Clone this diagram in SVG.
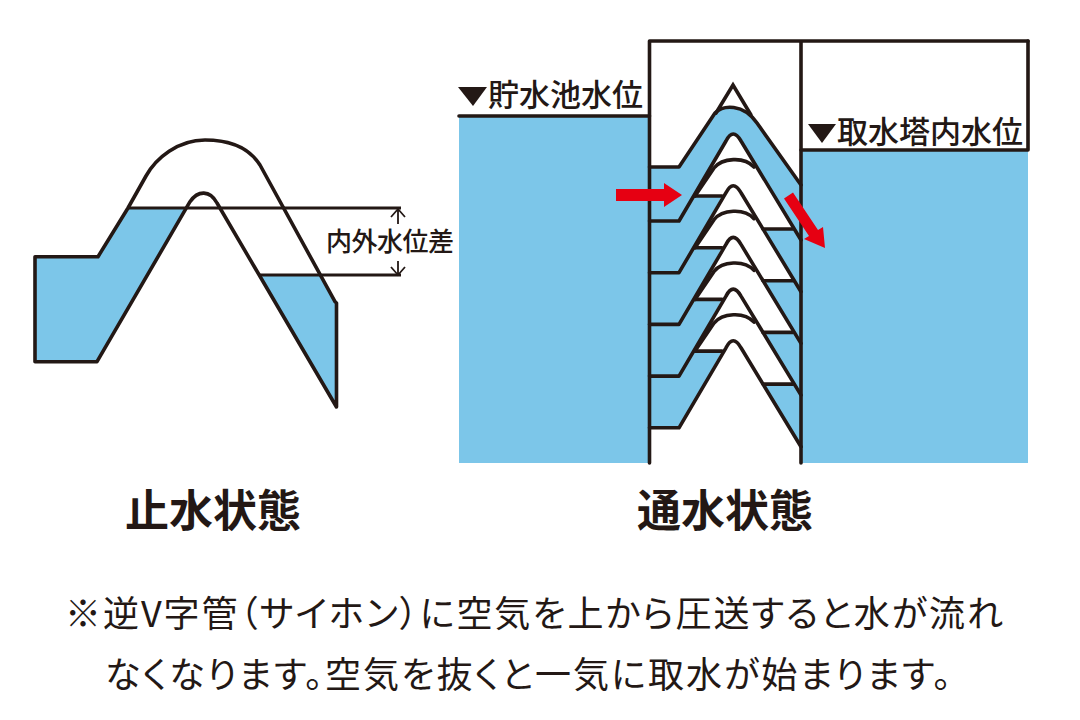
<svg xmlns="http://www.w3.org/2000/svg" xmlns:xlink="http://www.w3.org/1999/xlink" width="1080" height="720" viewBox="0 0 1080 720">
<style>
text{font-family:"Noto Sans CJK JP","Noto Sans CJK SC",sans-serif;fill:#231815}
.w{fill:#7cc6e9;stroke:none}
.l{fill:none;stroke:#231815;stroke-width:3.6;stroke-linejoin:round;stroke-linecap:round}
.t{fill:none;stroke:#231815;stroke-width:1.8}
.r{fill:#e60012}
.lab{font-size:31px;font-weight:500}
.title{font-size:44px;font-weight:700}
.note{font-size:36px;font-weight:400;font-feature-settings:"palt"}
</style>
<defs>
<path id="ll" class="l" d="M649.5,221H679L726,141Q733,127 741,141L801,240"/>
<path id="uu" class="l" d="M695,196L714,168C722,158 744,156 754,167"/>
<path id="lw" class="w" d="M649.5,221H679L695,196H722L679,272.7H649.5Z"/>
<path id="rw" class="w" d="M762,229H793L801,240V292L762,229Z"/>
<path id="lv" class="l" d="M695,196H722M763,229H793"/>
</defs>
<rect width="1080" height="720" fill="#fff"/>
<g id="left-siphon">
<path class="w" d="M35,256.7H98L128,208H187L97,361.7H35Z"/>
<path class="w" d="M260,275H322L335,301.7L336.5,407Z"/>
<path class="l" d="M35,256.7H98L128,208L146,176C156,158 178,140 205,140C228,140 248,146 260,165L335,301.7L336.5,303V407L217,203C210,190 198,190 190,201.7L97,361.7H35Z"/>
<path class="t" style="stroke-width:3.2" d="M128,208H401M260,275H401"/>
</g>
<g id="level-difference">
<path class="t" d="M398,209V224M391,217L398,209L405,217M398,261V275M391,267L398,275L405,267"/>
<text x="390" y="251" text-anchor="middle" font-size="26" font-weight="500" textLength="128">内外水位差</text>
</g>
<g id="reservoir">
<rect class="w" x="459" y="116" width="190.500" height="347"/>
<path class="l" d="M459,116H649.5"/>
<path d="M458,87H487L473,106Z" fill="#231815"/>
<text class="lab" x="488" y="106" textLength="155">貯水池水位</text>
</g>
<g id="intake-tower">
<rect class="w" x="801" y="150" width="227" height="313"/>
<path class="l" d="M801,150H1028V41"/>
<path d="M808,124H836L822,143Z" fill="#231815"/>
<text class="lab" x="837" y="143" textLength="186">取水塔内水位</text>
</g>
<g id="siphon-pipes">
<path class="w" d="M649.500,167H679L715,113C723,105 743,103 757,123L801,185V240L741,141Q733,127 726,141L679,221H649.500Z"/>
<use href="#lw"/><use href="#lw" y="51.700"/><use href="#lw" y="103.400"/><use href="#lw" y="155.100"/>
<use href="#rw"/><use href="#rw" y="51.700"/><use href="#rw" y="103.400"/><use href="#rw" y="155.100"/>
<path class="l" style="stroke-linejoin:miter" d="M716,113L733,85L751,115"/>
<path class="l" d="M649.500,167H679L715,113C723,105 743,103 757,123L801,185"/>
<use href="#ll"/><use href="#ll" y="51.700"/><use href="#ll" y="103.400"/><use href="#ll" y="155.100"/><use href="#ll" y="206.800"/>
<use href="#uu"/><use href="#uu" y="51.700"/><use href="#uu" y="103.400"/><use href="#uu" y="155.100"/>
<use href="#lv"/><use href="#lv" y="51.700"/><use href="#lv" y="103.400"/><use href="#lv" y="155.100"/>
<path class="l" d="M649.500,463V41H1028M801,41V463"/>
</g>
<g id="flow-arrows">
<path class="r" d="M616,189H664V183L682,195L664,207V201H616Z"/>
<path class="r" d="M793,192.400L818,230L823,227L825,248L804,239L809,236L784,198.600Z"/>
</g>
<text id="title-stopped" class="title" x="125" y="527" textLength="176">止水状態</text>
<text id="title-flowing" class="title" x="637" y="527" textLength="176">通水状態</text>
<text id="note-1" class="note" x="65" y="627" textLength="938">※逆V字管（サイホン）に空気を上から圧送すると水が流れ</text>
<text id="note-2" class="note" x="105" y="688" textLength="846">なくなります。空気を抜くと一気に取水が始まります。</text>
</svg>
